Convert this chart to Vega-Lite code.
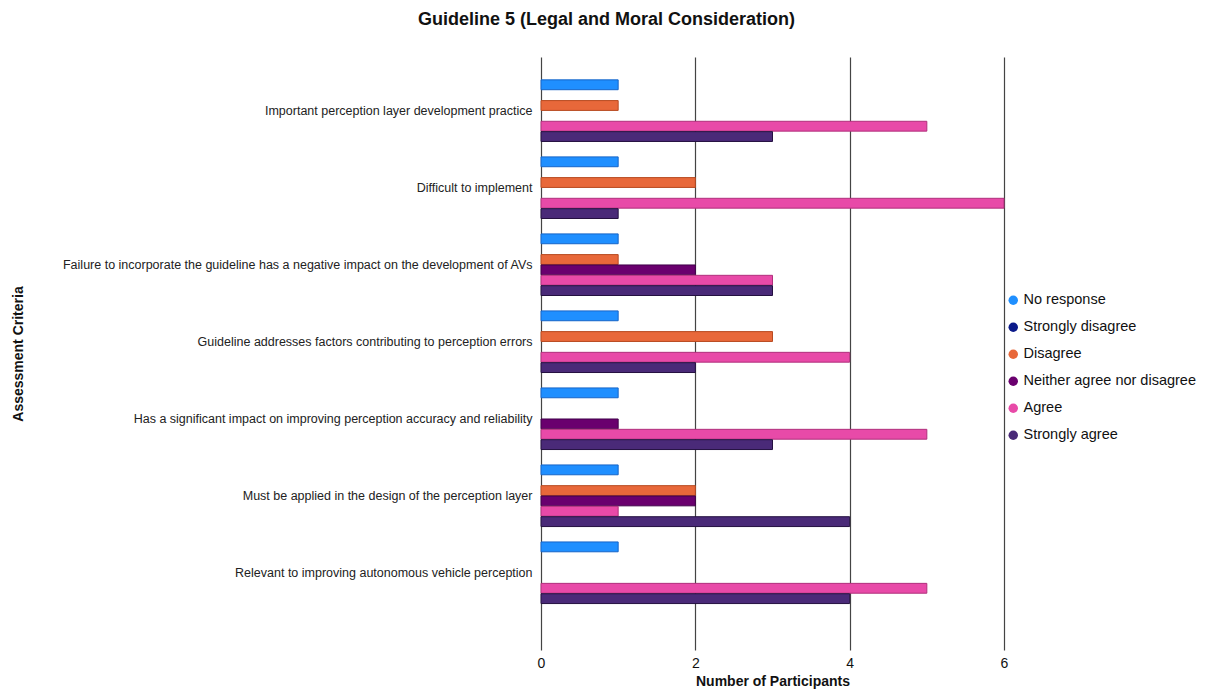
{
  "$schema": "https://vega.github.io/schema/vega-lite/v6.json",
  "width": 463,
  "height": 593,
  "autosize": {"type": "none"},
  "padding": {"left": 541, "top": 57, "right": 206, "bottom": 43},
  "background": "white",
  "title": {
    "text": "Guideline 5 (Legal and Moral Consideration)",
    "font": "Liberation Sans",
    "fontSize": 18,
    "fontWeight": "bold",
    "color": "#111",
    "anchor": "middle",
    "dx": -166,
    "offset": 28
  },
  "data": {
    "values": [
      {"criterion": "Important perception layer development practice", "response": "No response", "count": 1},
      {"criterion": "Important perception layer development practice", "response": "Disagree", "count": 1},
      {"criterion": "Important perception layer development practice", "response": "Agree", "count": 5},
      {"criterion": "Important perception layer development practice", "response": "Strongly agree", "count": 3},
      {"criterion": "Difficult to implement", "response": "No response", "count": 1},
      {"criterion": "Difficult to implement", "response": "Disagree", "count": 2},
      {"criterion": "Difficult to implement", "response": "Agree", "count": 6},
      {"criterion": "Difficult to implement", "response": "Strongly agree", "count": 1},
      {"criterion": "Failure to incorporate the guideline has a negative impact on the development of AVs", "response": "No response", "count": 1},
      {"criterion": "Failure to incorporate the guideline has a negative impact on the development of AVs", "response": "Disagree", "count": 1},
      {"criterion": "Failure to incorporate the guideline has a negative impact on the development of AVs", "response": "Neither agree nor disagree", "count": 2},
      {"criterion": "Failure to incorporate the guideline has a negative impact on the development of AVs", "response": "Agree", "count": 3},
      {"criterion": "Failure to incorporate the guideline has a negative impact on the development of AVs", "response": "Strongly agree", "count": 3},
      {"criterion": "Guideline addresses factors contributing to perception errors", "response": "No response", "count": 1},
      {"criterion": "Guideline addresses factors contributing to perception errors", "response": "Disagree", "count": 3},
      {"criterion": "Guideline addresses factors contributing to perception errors", "response": "Agree", "count": 4},
      {"criterion": "Guideline addresses factors contributing to perception errors", "response": "Strongly agree", "count": 2},
      {"criterion": "Has a significant impact on improving perception accuracy and reliability", "response": "No response", "count": 1},
      {"criterion": "Has a significant impact on improving perception accuracy and reliability", "response": "Neither agree nor disagree", "count": 1},
      {"criterion": "Has a significant impact on improving perception accuracy and reliability", "response": "Agree", "count": 5},
      {"criterion": "Has a significant impact on improving perception accuracy and reliability", "response": "Strongly agree", "count": 3},
      {"criterion": "Must be applied in the design of the perception layer", "response": "No response", "count": 1},
      {"criterion": "Must be applied in the design of the perception layer", "response": "Disagree", "count": 2},
      {"criterion": "Must be applied in the design of the perception layer", "response": "Neither agree nor disagree", "count": 2},
      {"criterion": "Must be applied in the design of the perception layer", "response": "Agree", "count": 1},
      {"criterion": "Must be applied in the design of the perception layer", "response": "Strongly agree", "count": 4},
      {"criterion": "Relevant to improving autonomous vehicle perception", "response": "No response", "count": 1},
      {"criterion": "Relevant to improving autonomous vehicle perception", "response": "Agree", "count": 5},
      {"criterion": "Relevant to improving autonomous vehicle perception", "response": "Strongly agree", "count": 4}
    ]
  },
  "mark": {"type": "bar", "strokeWidth": 1},
  "encoding": {
    "y": {
      "field": "criterion",
      "type": "nominal",
      "sort": null,
      "scale": {"paddingInner": 0.2, "paddingOuter": 0.45, "align": 0.33},
      "axis": {
        "title": "Assessment Criteria",
        "titleFont": "Liberation Sans",
        "titleFontSize": 14,
        "titleFontWeight": "bold",
        "titleColor": "#111",
        "titleX": -516,
        "labelFont": "Liberation Sans",
        "labelFontSize": 12.5,
        "labelColor": "#222",
        "labelPadding": 9,
        "labelLimit": 600,
        "ticks": false,
        "domain": false,
        "grid": false
      }
    },
    "yOffset": {
      "field": "response",
      "type": "nominal",
      "scale": {
        "domain": ["No response", "Strongly disagree", "Disagree", "Neither agree nor disagree", "Agree", "Strongly agree"],
        "paddingInner": 0.05,
        "paddingOuter": 0
      }
    },
    "x": {
      "field": "count",
      "type": "quantitative",
      "scale": {"domain": [0, 6], "nice": false},
      "axis": {
        "title": "Number of Participants",
        "titleFont": "Liberation Sans",
        "titleFontSize": 14,
        "titleFontWeight": "bold",
        "titleColor": "#111",
        "titlePadding": 4,
        "labelFont": "Liberation Sans",
        "labelFontSize": 14,
        "labelColor": "#111",
        "labelPadding": 6,
        "labelFlush": false,
        "values": [0, 2, 4, 6],
        "ticks": false,
        "domain": false,
        "grid": true,
        "gridColor": "#444",
        "gridWidth": 1.2
      }
    },
    "fill": {
      "field": "response",
      "type": "nominal",
      "scale": {
        "domain": ["No response", "Strongly disagree", "Disagree", "Neither agree nor disagree", "Agree", "Strongly agree"],
        "range": ["#1f8fff", "#0b1a8a", "#e8683a", "#6a006e", "#e84aa8", "#4a2a78"]
      },
      "legend": {
        "title": null,
        "orient": "none",
        "legendX": 465,
        "legendY": 236,
        "symbolType": "circle",
        "symbolSize": 90,
        "symbolStrokeWidth": 0,
        "labelFont": "Liberation Sans",
        "labelFontSize": 14.5,
        "labelColor": "#111",
        "labelOffset": 3,
        "labelLimit": 300,
        "rowPadding": 12
      }
    },
    "stroke": {
      "field": "response",
      "type": "nominal",
      "scale": {
        "domain": ["No response", "Strongly disagree", "Disagree", "Neither agree nor disagree", "Agree", "Strongly agree"],
        "range": ["#1665c8", "#050f60", "#b84a20", "#40004a", "#b0307c", "#241040"]
      },
      "legend": null
    }
  },
  "config": {"view": {"stroke": null}}
}
